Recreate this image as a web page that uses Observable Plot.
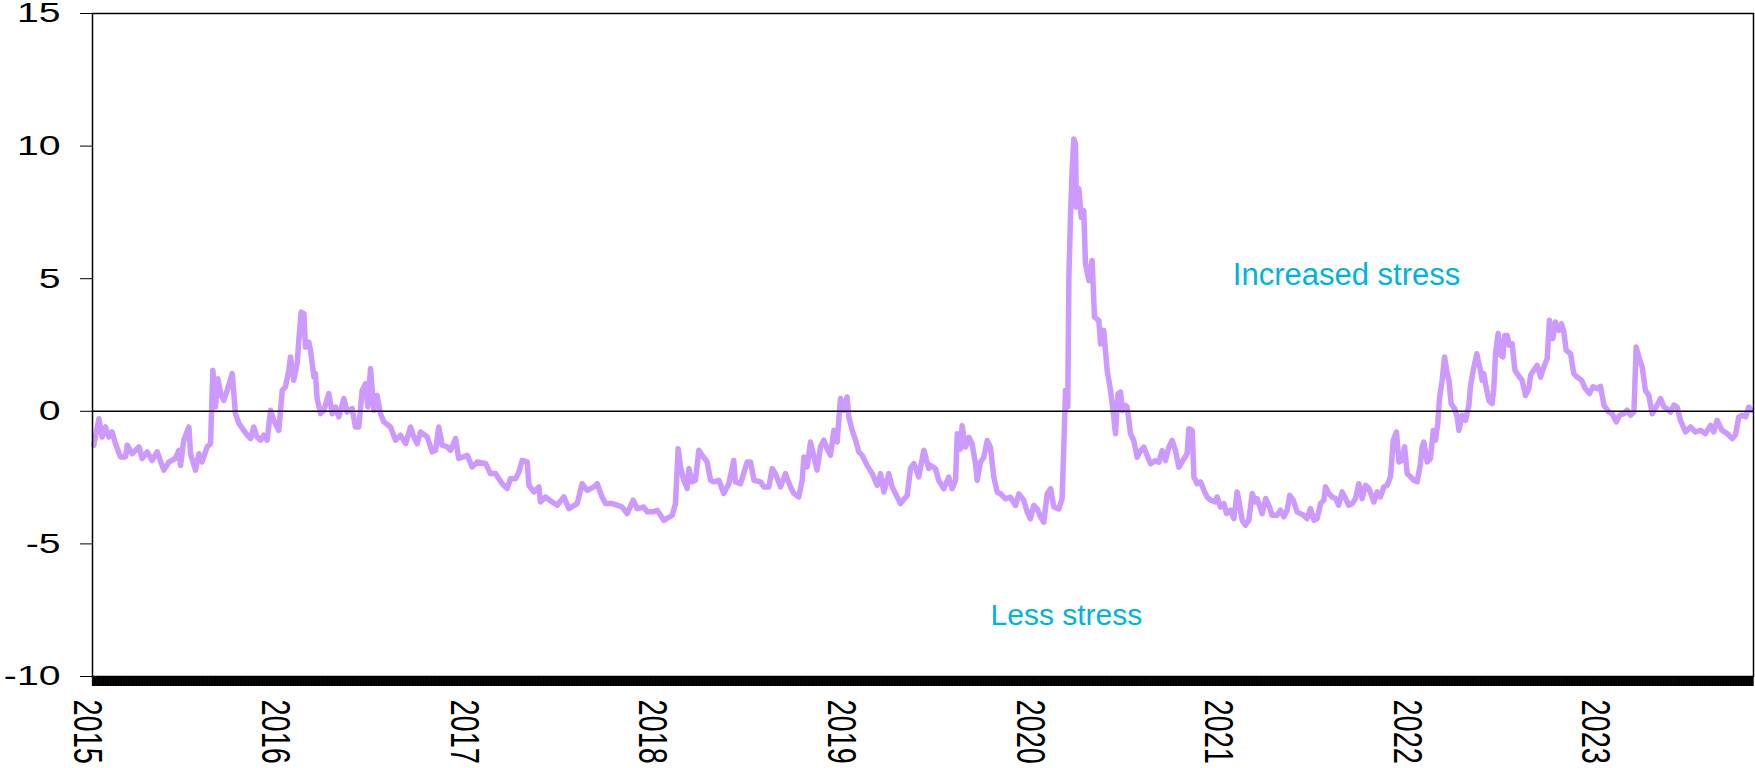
<!DOCTYPE html>
<html>
<head>
<meta charset="utf-8">
<script src="https://cdn.jsdelivr.net/npm/d3@7"></script>
<script src="https://cdn.jsdelivr.net/npm/@observablehq/plot@0.6"></script>
<style>
html, body { margin: 0; padding: 0; background: #fff; }
#chart svg { display: block; }
</style>
</head>
<body>
<div id="chart"></div>
<script>
// Stress index: [decimal year, value]
const s2015 = [[2015.007,-1.28],[2015.034,-0.28],[2015.051,-0.97],[2015.069,-0.59],[2015.087,-0.97],[2015.104,-0.78],[2015.122,-1.22],[2015.148,-1.72],[2015.175,-1.72],[2015.184,-1.28],[2015.210,-1.60],[2015.246,-1.34],[2015.263,-1.78],[2015.290,-1.53],[2015.316,-1.85],[2015.343,-1.53],[2015.378,-2.22],[2015.405,-1.91],[2015.440,-1.78],[2015.458,-1.47],[2015.467,-2.04],[2015.484,-1.09],[2015.511,-0.59],[2015.520,-1.60],[2015.546,-2.22],[2015.564,-1.60],[2015.581,-1.91],[2015.608,-1.34],[2015.626,-1.22],[2015.638,1.55],[2015.652,0.16],[2015.665,1.23],[2015.679,0.67],[2015.696,0.41],[2015.714,0.79],[2015.741,1.42],[2015.758,-0.09],[2015.776,-0.46],[2015.802,-0.72],[2015.820,-0.90],[2015.838,-1.03],[2015.855,-0.59],[2015.873,-0.97],[2015.891,-1.09],[2015.908,-0.90],[2015.926,-1.09],[2015.944,0.04],[2015.961,-0.34],[2015.988,-0.72]];
const s2016 = [[2016.006,0.79],[2016.023,0.92],[2016.041,1.55],[2016.050,2.05],[2016.067,1.17],[2016.085,1.80],[2016.094,2.68],[2016.106,3.74],[2016.121,3.68],[2016.129,2.42],[2016.147,2.61],[2016.156,2.30],[2016.174,1.29],[2016.182,1.42],[2016.191,0.48],[2016.209,-0.09],[2016.227,0.04],[2016.253,0.67],[2016.271,-0.09],[2016.288,0.16],[2016.306,-0.21],[2016.333,0.48],[2016.350,-0.03],[2016.377,0.10],[2016.394,-0.59],[2016.412,-0.59],[2016.430,0.79],[2016.448,1.04],[2016.460,0.16],[2016.474,1.61],[2016.492,0.04],[2016.509,0.60],[2016.527,-0.09],[2016.545,-0.40],[2016.580,-0.59],[2016.607,-1.09],[2016.633,-0.90],[2016.660,-1.22],[2016.686,-0.59],[2016.704,-0.97],[2016.721,-1.22],[2016.739,-0.78],[2016.775,-0.97],[2016.801,-1.53],[2016.819,-1.47],[2016.836,-0.59],[2016.854,-1.28],[2016.881,-1.34],[2016.898,-1.47],[2016.925,-1.03],[2016.942,-1.78],[2016.987,-1.66]];
const s2017 = [[2017.013,-2.10],[2017.040,-1.91],[2017.084,-1.97],[2017.110,-2.35],[2017.137,-2.35],[2017.172,-2.73],[2017.199,-2.91],[2017.216,-2.54],[2017.243,-2.54],[2017.261,-2.29],[2017.278,-1.85],[2017.305,-1.91],[2017.314,-2.79],[2017.340,-3.04],[2017.367,-2.85],[2017.375,-3.42],[2017.402,-3.23],[2017.437,-3.42],[2017.464,-3.54],[2017.499,-3.23],[2017.526,-3.67],[2017.570,-3.48],[2017.596,-2.73],[2017.623,-2.98],[2017.658,-2.85],[2017.676,-2.73],[2017.702,-3.23],[2017.720,-3.48],[2017.755,-3.48],[2017.782,-3.54],[2017.808,-3.61],[2017.835,-3.86],[2017.867,-3.35],[2017.888,-3.67],[2017.923,-3.61],[2017.941,-3.79],[2017.976,-3.79],[2017.994,-3.73]];
const s2018 = [[2018.029,-4.11],[2018.074,-3.92],[2018.091,-3.48],[2018.105,-1.41],[2018.118,-2.10],[2018.135,-2.60],[2018.153,-2.91],[2018.162,-2.16],[2018.180,-2.66],[2018.197,-2.60],[2018.215,-1.47],[2018.233,-1.66],[2018.259,-1.91],[2018.277,-2.60],[2018.294,-2.66],[2018.321,-2.60],[2018.347,-3.10],[2018.374,-2.73],[2018.400,-1.85],[2018.409,-2.66],[2018.436,-2.73],[2018.471,-1.91],[2018.489,-1.91],[2018.507,-2.60],[2018.542,-2.66],[2018.560,-2.85],[2018.586,-2.85],[2018.604,-2.16],[2018.621,-2.35],[2018.648,-2.85],[2018.674,-2.35],[2018.701,-2.85],[2018.719,-3.10],[2018.745,-3.23],[2018.763,-2.60],[2018.772,-1.72],[2018.789,-2.10],[2018.807,-1.16],[2018.825,-1.72],[2018.842,-2.22],[2018.860,-1.34],[2018.878,-1.09],[2018.895,-1.41],[2018.913,-1.66],[2018.931,-0.72],[2018.948,-1.16],[2018.966,0.48],[2018.984,0.04]];
const s2019 = [[2019.001,0.54],[2019.010,-0.21],[2019.028,-0.72],[2019.046,-1.09],[2019.063,-1.53],[2019.081,-1.66],[2019.107,-2.04],[2019.134,-2.35],[2019.161,-2.79],[2019.178,-2.35],[2019.196,-3.04],[2019.222,-2.35],[2019.240,-2.85],[2019.267,-3.23],[2019.284,-3.48],[2019.320,-3.17],[2019.337,-2.16],[2019.355,-1.97],[2019.381,-2.47],[2019.408,-1.47],[2019.434,-2.16],[2019.443,-2.04],[2019.470,-2.17],[2019.487,-2.61],[2019.514,-2.92],[2019.540,-2.48],[2019.558,-2.92],[2019.576,-2.61],[2019.585,-0.85],[2019.602,-1.42],[2019.611,-0.54],[2019.629,-1.35],[2019.647,-0.98],[2019.664,-1.23],[2019.682,-1.98],[2019.691,-2.61],[2019.708,-1.92],[2019.726,-1.73],[2019.744,-1.10],[2019.761,-1.35],[2019.779,-2.48],[2019.797,-3.05],[2019.814,-3.11],[2019.841,-3.30],[2019.867,-3.24],[2019.894,-3.55],[2019.912,-3.11],[2019.938,-3.36],[2019.956,-3.80],[2019.973,-4.05],[2019.991,-3.55]];
const s2020 = [[2020.009,-3.68],[2020.027,-3.99],[2020.044,-4.18],[2020.062,-3.11],[2020.080,-2.92],[2020.097,-3.61],[2020.124,-3.68],[2020.141,-3.30],[2020.150,-1.35],[2020.159,0.78],[2020.171,0.16],[2020.177,5.06],[2020.186,7.45],[2020.194,9.08],[2020.203,10.27],[2020.212,10.08],[2020.217,7.70],[2020.230,8.39],[2020.242,7.32],[2020.256,7.57],[2020.260,6.69],[2020.265,5.56],[2020.283,4.93],[2020.300,5.69],[2020.313,3.55],[2020.336,3.42],[2020.345,2.54],[2020.362,3.05],[2020.371,2.29],[2020.380,1.54],[2020.398,0.78],[2020.415,-0.22],[2020.424,-0.85],[2020.437,0.66],[2020.451,0.72],[2020.460,0.03],[2020.477,0.22],[2020.486,0.16],[2020.504,-0.85],[2020.521,-1.10],[2020.539,-1.73],[2020.557,-1.48],[2020.574,-1.35],[2020.592,-1.67],[2020.610,-1.98],[2020.636,-1.86],[2020.654,-1.92],[2020.672,-1.48],[2020.689,-1.86],[2020.707,-1.35],[2020.725,-1.10],[2020.742,-1.48],[2020.760,-2.11],[2020.787,-1.79],[2020.804,-1.60],[2020.813,-0.66],[2020.831,-0.72],[2020.840,-2.48],[2020.857,-2.73],[2020.875,-2.66],[2020.893,-2.98],[2020.910,-3.23],[2020.928,-3.35],[2020.954,-3.42],[2020.963,-3.23],[2020.981,-3.61],[2020.999,-3.48]];
const s2021 = [[2021.013,-3.86],[2021.034,-3.73],[2021.052,-4.05],[2021.069,-3.04],[2021.078,-3.35],[2021.096,-4.11],[2021.113,-4.30],[2021.131,-4.11],[2021.149,-3.10],[2021.166,-3.42],[2021.175,-3.29],[2021.202,-3.86],[2021.220,-3.29],[2021.237,-3.54],[2021.255,-3.92],[2021.281,-3.92],[2021.299,-3.73],[2021.317,-3.98],[2021.334,-3.73],[2021.348,-3.17],[2021.366,-3.35],[2021.387,-3.79],[2021.405,-3.86],[2021.423,-3.92],[2021.440,-4.05],[2021.458,-3.67],[2021.476,-4.11],[2021.493,-4.05],[2021.511,-3.48],[2021.529,-3.35],[2021.538,-2.85],[2021.555,-3.10],[2021.573,-3.23],[2021.591,-3.29],[2021.608,-3.54],[2021.626,-3.04],[2021.644,-3.29],[2021.661,-3.54],[2021.679,-3.48],[2021.697,-3.29],[2021.714,-2.73],[2021.732,-3.29],[2021.750,-2.79],[2021.768,-2.91],[2021.794,-3.42],[2021.812,-3.04],[2021.829,-3.23],[2021.847,-2.85],[2021.865,-2.79],[2021.882,-2.47],[2021.897,-1.09],[2021.914,-0.78],[2021.927,-1.91],[2021.944,-1.85],[2021.957,-1.34],[2021.971,-2.35],[2021.988,-2.47]];
const s2022 = [[2022.006,-2.60],[2022.024,-2.66],[2022.041,-1.97],[2022.050,-1.34],[2022.059,-1.16],[2022.077,-1.91],[2022.094,-1.78],[2022.109,-0.72],[2022.121,-1.09],[2022.133,-0.46],[2022.142,0.48],[2022.156,1.17],[2022.169,2.05],[2022.183,1.42],[2022.192,1.17],[2022.204,0.29],[2022.222,0.10],[2022.236,-0.21],[2022.245,-0.72],[2022.262,-0.15],[2022.280,-0.34],[2022.298,0.23],[2022.306,0.92],[2022.321,1.55],[2022.340,2.17],[2022.359,1.55],[2022.368,1.17],[2022.377,1.42],[2022.386,1.04],[2022.404,0.41],[2022.421,0.29],[2022.430,0.85],[2022.439,2.17],[2022.453,2.93],[2022.466,2.11],[2022.478,2.05],[2022.488,2.86],[2022.501,2.86],[2022.513,2.49],[2022.527,2.55],[2022.542,1.55],[2022.559,1.36],[2022.580,1.17],[2022.598,0.60],[2022.616,0.85],[2022.625,1.36],[2022.642,1.55],[2022.660,1.73],[2022.678,1.29],[2022.695,1.67],[2022.713,1.98],[2022.725,3.43],[2022.743,2.74],[2022.757,3.37],[2022.775,3.05],[2022.789,3.30],[2022.801,2.99],[2022.814,2.30],[2022.837,2.17],[2022.854,1.42],[2022.872,1.29],[2022.895,1.17],[2022.916,0.85],[2022.937,0.67],[2022.955,0.92],[2022.978,0.85],[2022.996,0.94]];
const s2023 = [[2023.014,0.23],[2023.040,-0.03],[2023.058,-0.09],[2023.079,-0.40],[2023.097,-0.15],[2023.120,-0.09],[2023.137,0.04],[2023.155,-0.15],[2023.173,-0.03],[2023.185,2.42],[2023.199,2.05],[2023.217,1.67],[2023.234,0.79],[2023.252,0.60],[2023.270,-0.09],[2023.296,0.23],[2023.314,0.48],[2023.332,0.16],[2023.349,0.10],[2023.367,-0.03],[2023.385,0.23],[2023.402,0.16],[2023.420,-0.34],[2023.446,-0.78],[2023.473,-0.59],[2023.499,-0.78],[2023.526,-0.72],[2023.552,-0.84],[2023.579,-0.53],[2023.596,-0.78],[2023.614,-0.34],[2023.641,-0.72],[2023.667,-0.84],[2023.694,-1.03],[2023.711,-0.90],[2023.729,-0.21],[2023.747,-0.15],[2023.765,-0.21],[2023.782,0.16],[2023.796,0.04]];

const yearTicks = [2015, 2016, 2017, 2018, 2019, 2020, 2021, 2022, 2023];
const yTicks = [-10, -5, 0, 5, 10, 15];
const xDomain = [2015, 2023.807];
const yDomain = [-10, 15];
const upperNote = [{label: "Increased stress", x: 2021.649, y: 5.15}];
const lowerNote = [{label: "Less stress", x: 2020.164, y: -7.69}];

const series = [...s2015, ...s2016, ...s2017, ...s2018, ...s2019, ...s2020, ...s2021, ...s2022, ...s2023]
  .map(([t, v]) => ({t, v}));
// one tick per business day on the category-like axis (dense black band)
const dayTicks = d3.range(xDomain[0], xDomain[1], 1 / 261);

const chart = Plot.plot({
  width: 1755,
  height: 768,
  marginLeft: 92,
  marginRight: 2,
  marginTop: 13,
  marginBottom: 92,
  style: {fontFamily: "'Liberation Sans', Arial, sans-serif", background: "#fff", color: "#000"},
  x: {type: "linear", domain: xDomain},
  y: {domain: yDomain},
  marks: [
    Plot.line(series, {x: "t", y: "v", stroke: "#cc99ff", strokeWidth: 5.5, strokeLinejoin: "round", strokeLinecap: "round"}),
    Plot.ruleY([0], {stroke: "#000", strokeWidth: 1.5}),
    Plot.axisY({ticks: yTicks, tickSize: 12, tickPadding: 20, fontSize: 28, tickFormat: d => String(d), stroke: "#000"}),
    Plot.axisX({ticks: dayTicks, tickSize: 10, tickFormat: () => "", stroke: "#000", strokeWidth: 1.3}),
    Plot.axisX({ticks: yearTicks, tickSize: 0, tickPadding: 23, tickRotate: 90, fontSize: 29, tickFormat: "d", dx: -6}),
    Plot.text(upperNote, {x: "x", y: "y", text: "label", fontSize: 31, fill: "#00b4d8"}),
    Plot.text(lowerNote, {x: "x", y: "y", text: "label", fontSize: 30, fill: "#00b4d8"}),
    Plot.frame({stroke: "#000", strokeWidth: 1.5})
  ]
});

// the reference's tick labels are drawn horizontally stretched
function stretch(selector, s) {
  chart.querySelectorAll(selector).forEach(t => {
    const tr = t.getAttribute("transform");
    if (tr && /translate\(/.test(tr)) {
      t.setAttribute("transform", tr.replace(/(translate\([^)]*\))/, `$1 scale(${s},1)`));
    } else {
      const x = +(t.getAttribute("x") || 0), y = +(t.getAttribute("y") || 0);
      t.removeAttribute("x"); t.removeAttribute("y");
      t.setAttribute("transform", `translate(${x},${y}) scale(${s},1)` + (tr ? " " + tr : ""));
    }
  });
}
stretch('g[aria-label="y-axis tick label"] text', 1.4);
stretch('g[aria-label="x-axis tick label"] text', 1.38);

document.getElementById("chart").appendChild(chart);
</script>
</body>
</html>
